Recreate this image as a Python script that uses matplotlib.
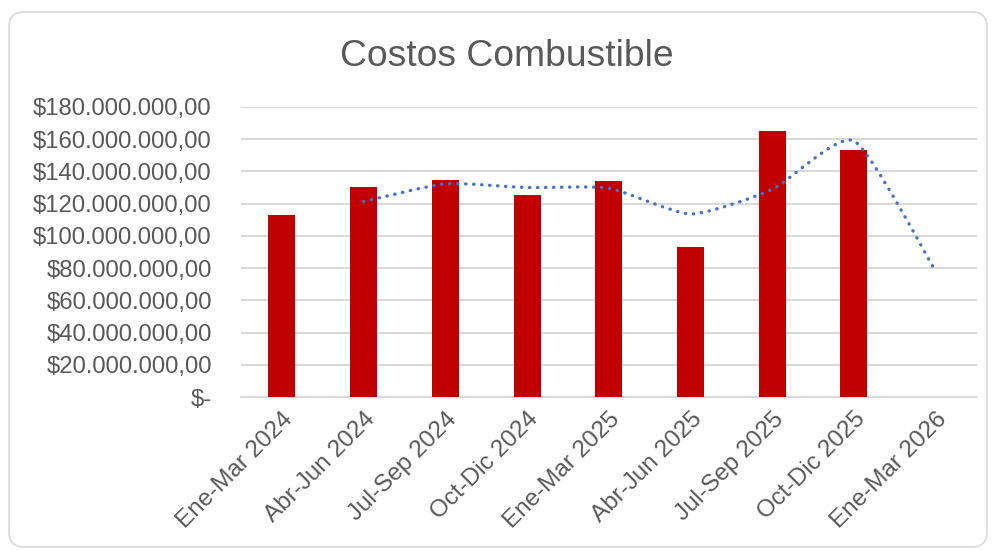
import matplotlib
matplotlib.use('Agg')
import matplotlib.pyplot as plt
from matplotlib.patches import FancyBboxPatch, PathPatch
from matplotlib.path import Path
from matplotlib.ticker import FuncFormatter
import numpy as np

plt.rcParams['font.family'] = ['Liberation Sans', 'DejaVu Sans']

periods = ['Ene-Mar 2024', 'Abr-Jun 2024', 'Jul-Sep 2024', 'Oct-Dic 2024',
           'Ene-Mar 2025', 'Abr-Jun 2025', 'Jul-Sep 2025', 'Oct-Dic 2025',
           'Ene-Mar 2026']
costs = [113.0e6, 130.1e6, 134.9e6, 125.4e6, 134.3e6, 93.1e6, 165.1e6, 153.5e6, 0.0]
# 2-period moving average trendline (starts at 2nd period)
trend_start = 1
trend = [121.3e6, 132.3e6, 130.0e6, 129.6e6, 113.6e6, 128.8e6, 159.0e6, 78.0e6]

TEXT = '#595959'
GRID = '#d9d9d9'
BAR = '#C00000'
LINE = '#4472C4'


def money(v, _pos):
    if v == 0:
        return '$-'
    s = f'{v:,.2f}'.replace(',', '_').replace('.', ',').replace('_', '.')
    return '$' + s


def smooth_path(xs, ys, k=0.1):
    # smoothed line: cubic Bezier segments through every point, low tension
    pts = np.column_stack([xs, ys]).astype(float)
    ext = np.vstack([pts[0], pts, pts[-1]])
    verts = [pts[0]]
    codes = [Path.MOVETO]
    for i in range(len(pts) - 1):
        p0, p1, p2, p3 = ext[i], ext[i + 1], ext[i + 2], ext[i + 3]
        verts += [p1 + (p2 - p0) * k, p2 - (p3 - p1) * k, p2]
        codes += [Path.CURVE4] * 3
    return Path(verts, codes)


fig = plt.figure(figsize=(9.92, 5.5), dpi=100)
frame = FancyBboxPatch((0.09, 0.03), 9.78, 5.35,
                       boxstyle='round,pad=0,rounding_size=0.15',
                       transform=fig.dpi_scale_trans, facecolor='none',
                       edgecolor=GRID, linewidth=1.2)
fig.patches.append(frame)

ax = fig.add_axes([241 / 992, 1 - 397 / 550, (976.5 - 241) / 992, (397 - 107) / 550])
ax.set_facecolor('none')

x = np.arange(len(periods))
ax.bar(x, costs, width=0.33, color=BAR, zorder=3)

tx = x[trend_start:trend_start + len(trend)]
patch = PathPatch(smooth_path(tx, trend), fill=False, edgecolor=LINE,
                  linewidth=2.4, linestyle=(0, (0.1, 2.3)), zorder=4)
patch.set_capstyle('round')
ax.add_patch(patch)

ax.set_xlim(-0.5, len(periods) - 0.5)
ax.set_ylim(0, 180e6)
ax.set_yticks(np.arange(0, 180e6 + 1, 20e6))
ax.yaxis.set_major_formatter(FuncFormatter(money))
ax.set_xticks(x)
ax.set_xticklabels(periods, rotation=45, ha='right', rotation_mode='anchor')

ax.grid(axis='y', color=GRID, linewidth=1.5, zorder=0)
ax.set_axisbelow(True)
for side in ['left', 'right', 'top']:
    ax.spines[side].set_visible(False)
ax.spines['bottom'].set_color(GRID)
ax.spines['bottom'].set_linewidth(1.5)
ax.tick_params(axis='both', length=0, labelcolor=TEXT)
ax.tick_params(axis='y', pad=21, labelsize=17.2)
ax.tick_params(axis='x', pad=8, labelsize=17.5)

fig.text(507 / 992, 1 - 56 / 550, 'Costos Combustible', ha='center', va='center',
         fontsize=26.8, color=TEXT)

fig.savefig('out.png', dpi=100)
